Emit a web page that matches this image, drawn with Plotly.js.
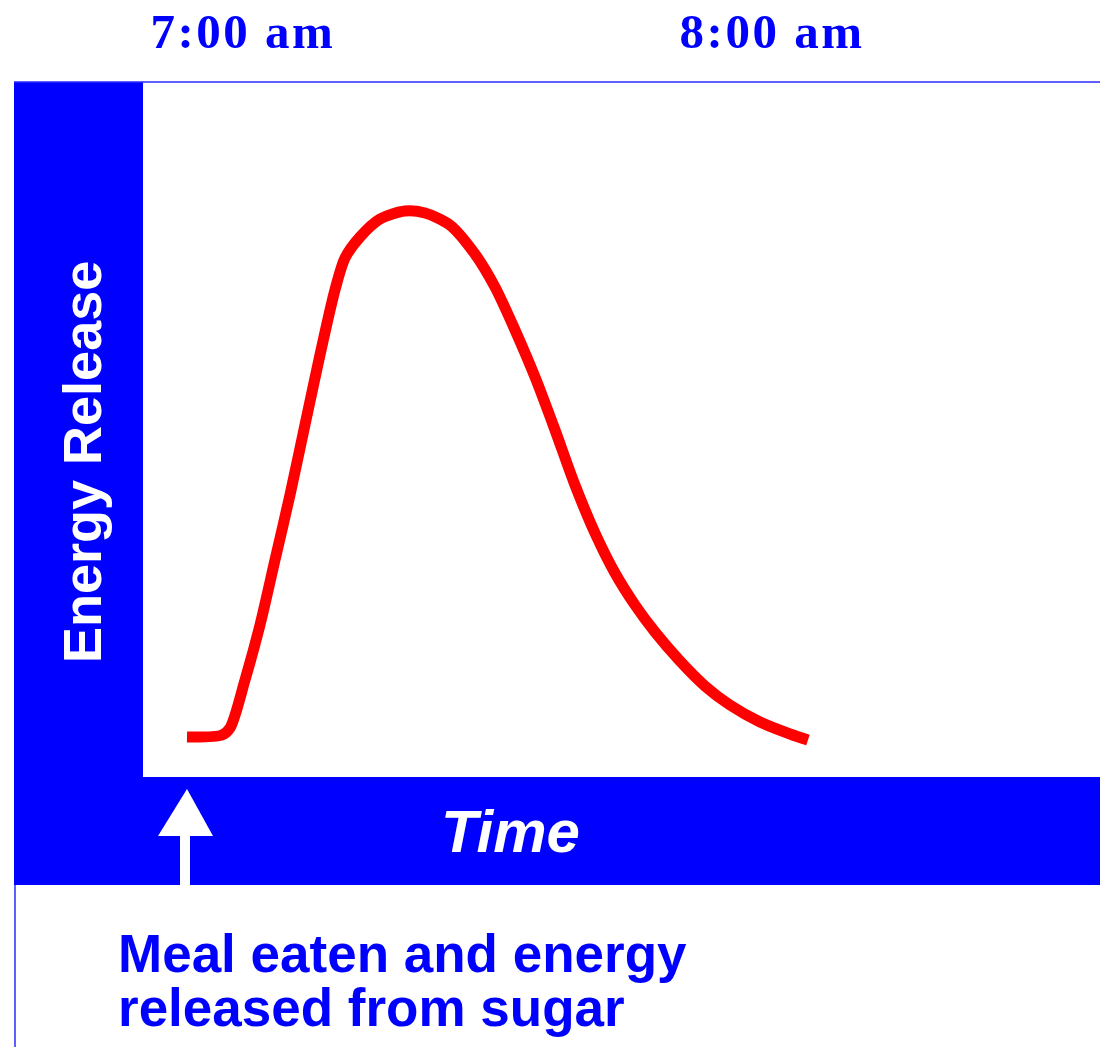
<!DOCTYPE html>
<html>
<head>
<meta charset="utf-8">
<script src="https://cdn.plot.ly/plotly-3.0.1.min.js"></script>
<style>html,body{margin:0;padding:0;background:#fff;}</style>
</head>
<body>
<div id="chart" style="width:1100px;height:1047px;"></div>
<script>
// Minutes after 7:00 am
const minutes = [-6.35, -2.38, -1.47, 0.23, 1.93, 3.63, 5.33, 7.03, 8.73, 10.43, 11.57, 13.27, 15.54, 18.37, 20.64, 23.48, 26.31, 28.58, 30.85, 33.12, 35.39, 37.65, 39.92, 42.19, 44.46, 46.73, 49.56, 52.40, 55.23, 58.64, 62.04, 64.08];
// Energy release (arbitrary units, 0-100)
const energy = [5.76, 6.04, 7.05, 13.96, 21.87, 31.22, 40.58, 50.65, 60.72, 70.07, 74.68, 77.70, 80.29, 81.44, 81.15, 79.42, 75.25, 70.50, 64.32, 57.55, 49.93, 42.01, 35.11, 29.35, 24.75, 20.86, 16.69, 13.09, 10.36, 7.91, 6.19, 5.32];
const tickValues = [0, 60];
const tickLabels = ["7:00 am", "8:00 am"];
const yTitle = "Energy Release";
const xTitle = "Time";
const noteLines = ["Meal eaten and energy", "released from sugar"];

const BLUE = "#0000ff";
const W = 957, H = 695; // plot area in px
const px = v => v / W, py = v => v / H;

const trace = {
  x: minutes, y: energy, mode: "lines", type: "scatter",
  line: {color: "#ff0000", width: 11, shape: "spline", smoothing: 0.8},
  hoverinfo: "skip"
};

const layout = {
  width: 1100, height: 1047,
  margin: {l: 143, r: 0, t: 82, b: 270, pad: 0},
  paper_bgcolor: "#ffffff", plot_bgcolor: "#ffffff",
  showlegend: false,
  xaxis: {
    range: [-11.34, 97.2], side: "top",
    tickvals: tickValues,
    ticktext: tickLabels.map(t => '<b><span style="letter-spacing:2.5px">' + t + '</span></b>'),
    tickfont: {family: "Liberation Serif, Times New Roman, serif", size: 49, color: BLUE},
    ticks: "", ticklabelstandoff: 23,
    showgrid: false, zeroline: false, showline: false, fixedrange: true
  },
  yaxis: {
    range: [0, 100], showticklabels: false, ticks: "",
    showgrid: false, zeroline: false, showline: false, fixedrange: true
  },
  shapes: [
    // left blue band
    {type: "rect", xref: "paper", yref: "paper", x0: px(-129), x1: 0, y0: 0, y1: 1,
     fillcolor: BLUE, line: {width: 0}, layer: "below"},
    // bottom blue band
    {type: "rect", xref: "paper", yref: "paper", x0: px(-129), x1: 1, y0: py(-108), y1: 0,
     fillcolor: BLUE, line: {width: 0}, layer: "below"},
    // top thin rule
    {type: "line", xref: "paper", yref: "paper", x0: px(-129), x1: 1, y0: 1, y1: 1,
     line: {color: "#2a2aff", width: 1.5}},
    // left thin rule below band
    {type: "line", xref: "paper", yref: "paper", x0: px(-128), x1: px(-128), y0: py(-108), y1: py(-270),
     line: {color: "#2a2aff", width: 1.5}},
    // arrow head
    {type: "path", xref: "paper", yref: "paper",
     path: "M " + px(44) + " " + py(-12) + " L " + px(70) + " " + py(-59) + " L " + px(15) + " " + py(-59) + " Z",
     fillcolor: "#ffffff", line: {width: 0}},
    // arrow shaft
    {type: "rect", xref: "paper", yref: "paper", x0: px(37), x1: px(47), y0: py(-108), y1: py(-58),
     fillcolor: "#ffffff", line: {width: 0}}
  ],
  annotations: [
    {text: "<b>" + yTitle + "</b>", xref: "paper", yref: "paper", x: px(-61), y: py(315),
     textangle: -90, showarrow: false, xanchor: "center", yanchor: "middle",
     font: {family: "Liberation Sans, Arial, sans-serif", size: 54, color: "#ffffff"}},
    {text: "<b><i>" + xTitle + "</i></b>", xref: "paper", yref: "paper", x: px(367), y: py(-54),
     showarrow: false, xanchor: "center", yanchor: "middle",
     font: {family: "Liberation Sans, Arial, sans-serif", size: 60, color: "#ffffff"}},
    {text: "<b>" + noteLines[0] + "</b>", xref: "paper", yref: "paper", x: px(-27), y: py(-176),
     showarrow: false, xanchor: "left", yanchor: "middle",
     font: {family: "Liberation Sans, Arial, sans-serif", size: 53, color: BLUE}},
    {text: "<b>" + noteLines[1] + "</b>", xref: "paper", yref: "paper", x: px(-27), y: py(-230),
     showarrow: false, xanchor: "left", yanchor: "middle",
     font: {family: "Liberation Sans, Arial, sans-serif", size: 53, color: BLUE}}
  ]
};

Plotly.newPlot("chart", [trace], layout, {displayModeBar: false, staticPlot: true});
</script>
</body>
</html>
